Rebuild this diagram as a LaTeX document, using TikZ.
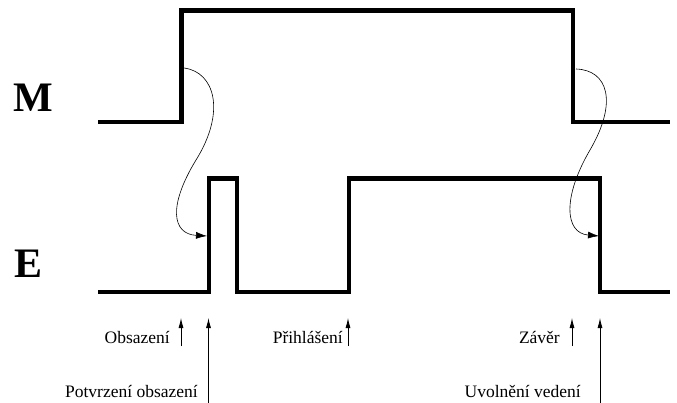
\documentclass[tikz,border=0pt]{standalone}
\usepackage{fontspec}
\setmainfont{Liberation Serif}
\usetikzlibrary{arrows.meta}
\begin{document}
\begin{tikzpicture}[x=1pt,y=-1pt,
  signal/.style={line width=4.6pt,line join=miter,line cap=butt},
  cause/.style={line width=0.6pt,-{Latex[length=11pt,width=7pt]}},
  marker/.style={line width=0.8pt,-{Latex[length=10pt,width=5pt]}},
  lbl/.style={font=\fontsize{17.5}{20}\selectfont,inner sep=0pt},
  big/.style={font=\fontsize{42}{44}\selectfont\bfseries,inner sep=0pt}]
\useasboundingbox (0,0) rectangle (677,403);
% signal names
\node[big,anchor=base west] (Mlbl) at (13,112) {M};
\node[big,anchor=base west] (Elbl) at (14,278) {E};
% signals
\draw[signal] (98,122) -- (181.5,122) -- (181.5,10.5) -- (573,10.5) -- (573,122) -- (670,122);
\draw[signal] (98,292) -- (209,292) -- (209,178.5) -- (237,178.5) -- (237,292) -- (349,292) -- (349,178.5) -- (600,178.5) -- (600,292) -- (670,292);
% causal arrows
\coordinate (c1s) at (184,68);
\coordinate (c1e) at (207,236);
\coordinate (c2s) at (576,69);
\coordinate (c2e) at (599,236);
\draw[cause] (c1s) .. controls (215,72) and (226,112) .. (196,160) .. controls (168,206) and (172,234) .. (c1e);
\draw[cause] (c2s) .. controls (608,70) and (618,102) .. (590,150) .. controls (563,196) and (564,233) .. (c2e);
% markers
\coordinate (a1b) at (181,346); \coordinate (a1t) at (181,318);
\coordinate (a2b) at (208.5,403); \coordinate (a2t) at (208.5,318);
\coordinate (a3b) at (348,346); \coordinate (a3t) at (348,318);
\coordinate (a4b) at (572,346); \coordinate (a4t) at (572,318);
\coordinate (a5b) at (600,403); \coordinate (a5t) at (600,318);
\draw[marker] (a1b) -- (a1t);
\draw[marker] (a2b) -- (a2t);
\draw[marker] (a3b) -- (a3t);
\draw[marker] (a4b) -- (a4t);
\draw[marker] (a5b) -- (a5t);
\node[lbl,anchor=base east] (l1) at (170,343) {Obsazení};
\node[lbl,anchor=base east] (l2) at (198,397) {Potvrzení obsazení};
\node[lbl,anchor=base east] (l3) at (343,343) {Přihlášení};
\node[lbl,anchor=base east] (l4) at (560,343) {Závěr};
\node[lbl,anchor=base east] (l5) at (581,397) {Uvolnění vedení};
\end{tikzpicture}
\end{document}
